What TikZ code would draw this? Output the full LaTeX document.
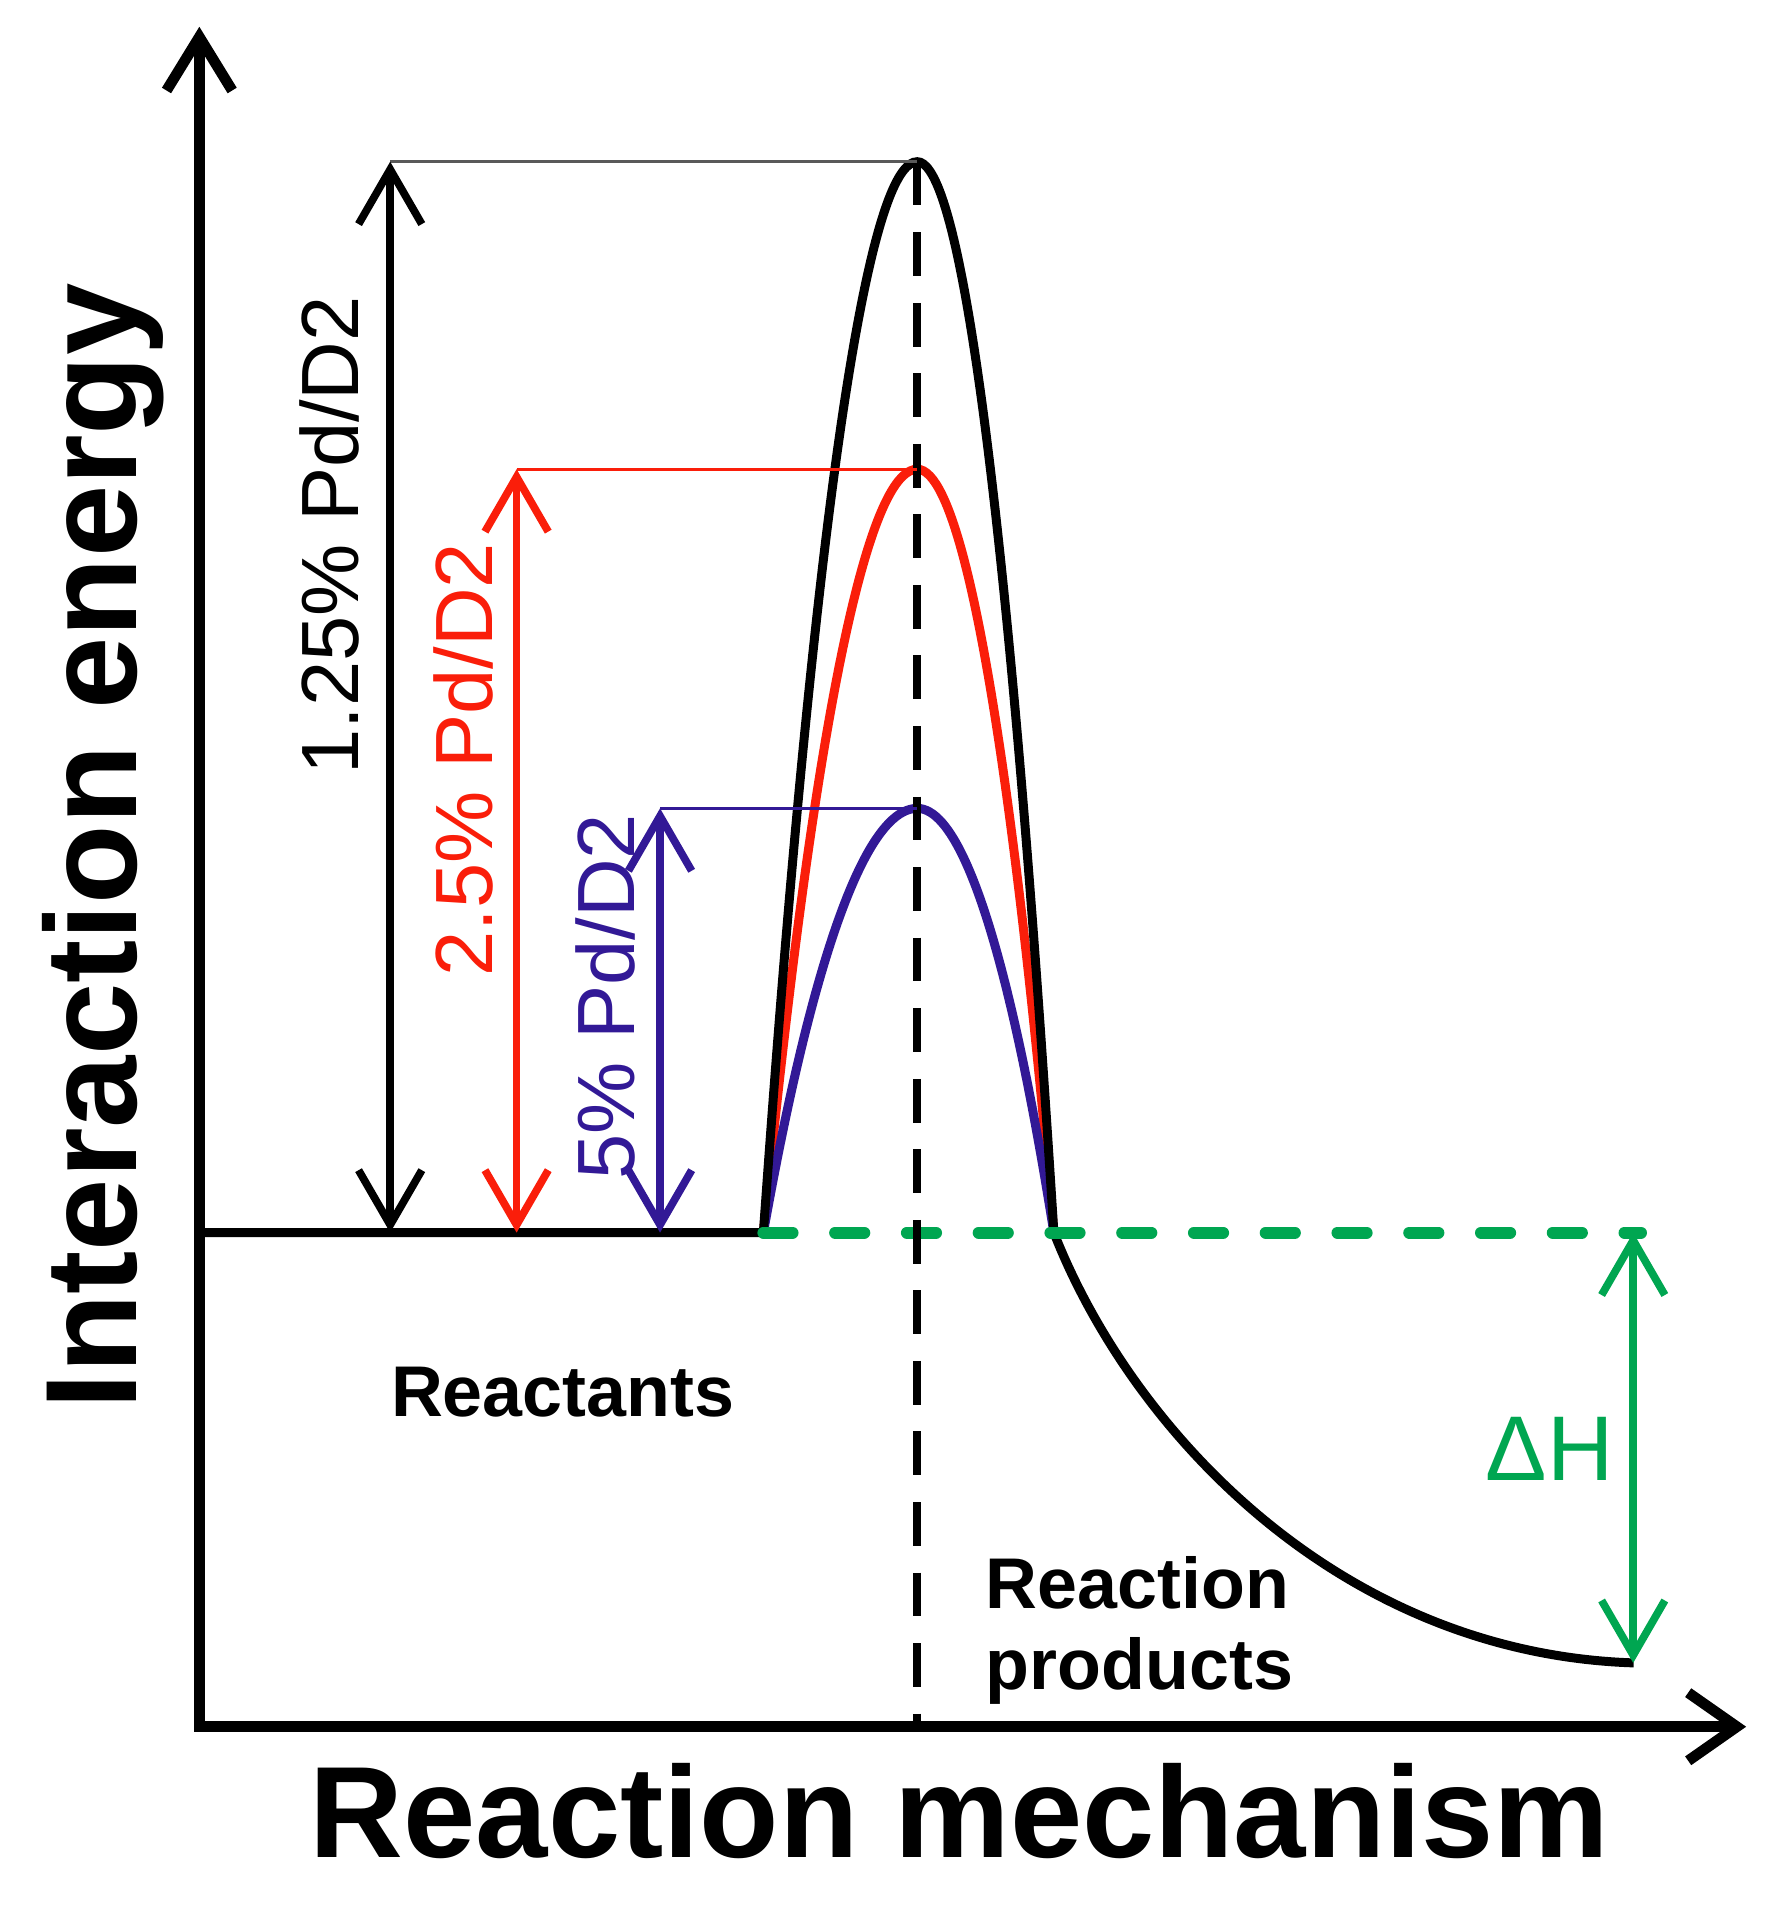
\documentclass[tikz,border=0pt]{standalone}
\usepackage{fontspec}
\setmainfont{Liberation Sans}
\usetikzlibrary{arrows.meta}
\definecolor{myred}{RGB}{250,30,10}
\definecolor{myblue}{RGB}{50,25,150}
\definecolor{mygreen}{RGB}{0,166,81}
\begin{document}
\begin{tikzpicture}[x=0.01cm,y=-0.01cm,
  axes/.style={line width=2.5pt, {Straight Barb[length=4.4mm,width=5.4mm]}-{Straight Barb[length=4.0mm,width=5.6mm]}},
  curve/.style={line width=2.1pt},
  dim/.style={line width=1.8pt, {Straight Barb[length=4.5mm,width=5.2mm]}-{Straight Barb[length=4.5mm,width=5.2mm]}},
  guide/.style={line width=0.7pt},
  vlabel/.style={inner sep=0pt, anchor=base west, rotate=90, font=\fontsize{19}{22}\selectfont},
  biglabel/.style={inner sep=0pt, font=\fontsize{30.4}{34}\selectfont\bfseries},
  smalllabel/.style={inner sep=0pt, anchor=base west, font=\fontsize{16.8}{20}\selectfont\bfseries}
]
\useasboundingbox[fill=white] (0,0) rectangle (1462,1568);

% key points
\coordinate (ytop) at (164,22);
\coordinate (orig) at (164,1420.5);
\coordinate (xend) at (1436.5,1420.5);
\coordinate (r0) at (164,1014);
\coordinate (b0) at (628,1014);
\coordinate (b1) at (867,1014);
\coordinate (pk1) at (754.6,133);
\coordinate (pk2) at (754.6,386);
\coordinate (pk3) at (754.6,665);
\coordinate (pe) at (1344,1368);
\coordinate (vbot) at (754.6,1420.5);
\coordinate (gend) at (1350,1014);
\coordinate (a1t) at (321,133);
\coordinate (a1b) at (321,1014);
\coordinate (a2t) at (425,386);
\coordinate (a2b) at (425,1014);
\coordinate (a3t) at (543,665);
\coordinate (a3b) at (543,1014);
\coordinate (a4t) at (1343.6,1014);
\coordinate (a4b) at (1343.6,1368);

% axes
\draw[axes] (ytop) -- (orig) -- (xend);

% curves
\draw[curve, myred] (b0) parabola bend (pk2) (b1);
\draw[curve, myblue] (b0) parabola bend (pk3) (b1);
\draw[curve] (r0) -- (b0) parabola bend (pk1) (b1) .. controls (930,1175) and (1100,1360) .. (pe);

% green dashed level
\draw[mygreen, line width=2.8pt, line cap=round, dash pattern=on 0.24cm off 0.35cm] (b0) -- (gend);

% vertical dashed line
\draw[line width=1.8pt, dash pattern=on 0.36cm off 0.22cm] (pk1) -- (vbot);

% guide lines
\draw[guide, black!65] (a1t) -- (pk1);
\draw[guide, myred] (a2t) -- (pk2);
\draw[guide, myblue] (a3t) -- (pk3);

% dimension arrows
\draw[dim] (a1t) -- (a1b);
\draw[dim, myred] (a2t) -- (a2b);
\draw[dim, myblue] (a3t) -- (a3b);
\draw[dim, mygreen] (a4t) -- (a4b);

% labels
\node[vlabel] (l1) at (295,638) {1.25\% Pd/D2};
\node[vlabel, text=myred] (l2) at (405,804) {2.5\% Pd/D2};
\node[vlabel, text=myblue] (l3) at (522,971) {5\% Pd/D2};
\node[biglabel, anchor=base west, rotate=90] (ylab) at (112.7,1160.5) {Interaction energy};
\node[biglabel, anchor=base] (xlab) at (789.5,1528) {Reaction mechanism};
\node[smalllabel] (react) at (321,1165.5) {Reactants};
\node[smalllabel] (rp1) at (810.4,1323) {Reaction};
\node[smalllabel] (rp2) at (810.4,1390) {products};
\node[inner sep=0pt, anchor=base west, text=mygreen, font=\fontsize{21.5}{24}\selectfont] (dh) at (1221.7,1217.6) {ΔH};
\end{tikzpicture}
\end{document}
